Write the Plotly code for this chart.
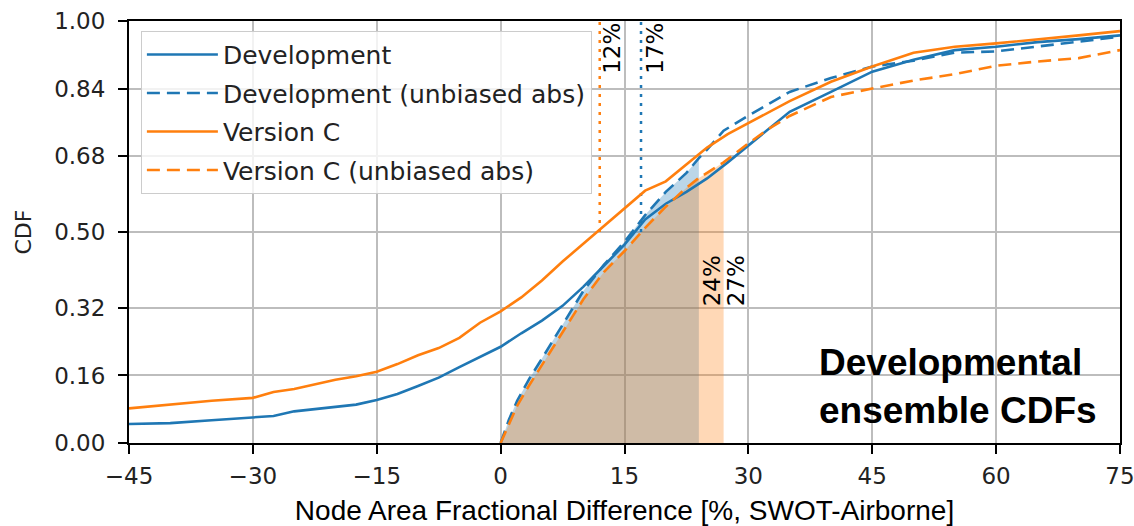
import plotly.graph_objects as go

# ---------------- data ----------------
x_solid = [-45, -40, -35, -30, -27.5, -25, -20, -17.5, -15, -12.5, -10, -7.5, -5, -2.5,
           0, 2.5, 5, 7.5, 10, 12.5, 15, 17.5, 20, 22.5, 25, 27.5, 30, 35, 40, 45,
           50, 55, 60, 65, 70, 75]
dev_cdf = [0.045, 0.047, 0.054, 0.061, 0.064, 0.075, 0.085, 0.091, 0.102, 0.116, 0.135,
           0.155, 0.180, 0.205, 0.228, 0.260, 0.290, 0.325, 0.370, 0.420, 0.470, 0.530,
           0.567, 0.595, 0.627, 0.665, 0.705, 0.785, 0.832, 0.880, 0.908, 0.931, 0.939,
           0.950, 0.957, 0.966]
verc_cdf = [0.082, 0.091, 0.100, 0.107, 0.121, 0.128, 0.150, 0.158, 0.169, 0.187, 0.208,
            0.225, 0.249, 0.285, 0.312, 0.345, 0.385, 0.430, 0.472, 0.515, 0.556, 0.598,
            0.620, 0.660, 0.700, 0.732, 0.758, 0.810, 0.856, 0.892, 0.925, 0.939, 0.947,
            0.956, 0.966, 0.976]

x_abs = [0, 1, 2, 3.5, 5, 7.5, 10, 12.5, 15, 17.5, 20, 22.5, 24, 25, 27, 30, 32.5, 35,
         40, 45, 50, 55, 60, 65, 70, 75]
dev_abs_cdf = [0.0, 0.055, 0.100, 0.153, 0.200, 0.280, 0.360, 0.422, 0.477, 0.540, 0.595,
               0.640, 0.675, 0.695, 0.740, 0.776, 0.805, 0.832, 0.865, 0.892, 0.906,
               0.925, 0.928, 0.939, 0.951, 0.963]
verc_abs_cdf = [0.0, 0.045, 0.088, 0.138, 0.185, 0.262, 0.340, 0.405, 0.455, 0.510, 0.560,
                0.605, 0.628, 0.640, 0.665, 0.710, 0.745, 0.775, 0.820, 0.840, 0.859,
                0.874, 0.894, 0.904, 0.912, 0.931]

median_dev = 17      # dotted marker, Development
median_verc = 12     # dotted marker, Version C
p68_dev_abs = 24     # shaded extent, Development (unbiased abs)
p68_verc_abs = 27    # shaded extent, Version C (unbiased abs)

x_ticks = [-45, -30, -15, 0, 15, 30, 45, 60, 75]
x_tick_labels = ["\u221245", "\u221230", "\u221215", "0", "15", "30", "45", "60", "75"]
y_ticks = [0.0, 0.16, 0.32, 0.50, 0.68, 0.84, 1.00]
y_tick_labels = ["0.00", "0.16", "0.32", "0.50", "0.68", "0.84", "1.00"]

BLUE = "#1f77b4"
ORANGE = "#ff7f0e"
TICKFONT = "DejaVu Sans"
ARIAL = "Liberation Sans, Arial, sans-serif"

fig = go.Figure()

# shaded areas under the unbiased-abs CDFs
def clip(xs, ys, xmax):
    px = [x for x in xs if x <= xmax]
    return px, ys[:len(px)]

fx, fy = clip(x_abs, dev_abs_cdf, p68_dev_abs)
fig.add_trace(go.Scatter(x=fx, y=fy, mode="lines", fill="tozeroy",
                         fillcolor="rgba(31,119,180,0.3)", line=dict(width=0),
                         showlegend=False, hoverinfo="skip"))
fx, fy = clip(x_abs, verc_abs_cdf, p68_verc_abs)
fig.add_trace(go.Scatter(x=fx, y=fy, mode="lines", fill="tozeroy",
                         fillcolor="rgba(255,127,14,0.3)", line=dict(width=0),
                         showlegend=False, hoverinfo="skip"))

# dotted median markers
fig.add_trace(go.Scatter(x=[median_verc, median_verc], y=[0.5, 1.0], mode="lines",
                         line=dict(color=ORANGE, width=2.5, dash="3px,6px"),
                         showlegend=False, hoverinfo="skip"))
fig.add_trace(go.Scatter(x=[median_dev, median_dev], y=[0.5, 1.0], mode="lines",
                         line=dict(color=BLUE, width=2.5, dash="3px,6px"),
                         showlegend=False, hoverinfo="skip"))

# CDF curves
fig.add_trace(go.Scatter(x=x_solid, y=dev_cdf, mode="lines", name="Development",
                         line=dict(color=BLUE, width=2.6), legendgroup="a"))
fig.add_trace(go.Scatter(x=x_abs, y=dev_abs_cdf, mode="lines",
                         name="Development (unbiased abs)",
                         line=dict(color=BLUE, width=2.6, dash="13px,7px"), legendgroup="b"))
fig.add_trace(go.Scatter(x=x_solid, y=verc_cdf, mode="lines", name="Version C",
                         line=dict(color=ORANGE, width=2.6), legendgroup="c"))
fig.add_trace(go.Scatter(x=x_abs, y=verc_abs_cdf, mode="lines",
                         name="Version C (unbiased abs)",
                         line=dict(color=ORANGE, width=2.6, dash="13px,7px"), legendgroup="d"))

ann_font = dict(family=TICKFONT, size=23, color="black")
for xv, txt in [(median_verc + 1.4, "12%"), (median_dev + 1.6, "17%")]:
    fig.add_annotation(x=xv, y=1.0, xref="x", yref="y", text=txt,
                       textangle=-90, showarrow=False, xanchor="center", yanchor="top",
                       font=ann_font)
for xv, txt in [(p68_dev_abs + 1.7, "24%"), (p68_verc_abs + 1.6, "27%")]:
    fig.add_annotation(x=xv, y=0.32, xref="x", yref="y", text=txt, textangle=-90,
                       showarrow=False, xanchor="center", yanchor="bottom", font=ann_font)

fig.add_annotation(x=38.3, y=0.135, xref="x", yref="y",
                   text="Developmental<br>ensemble CDFs", showarrow=False,
                   align="left", xanchor="left", yanchor="middle",
                   font=dict(family=ARIAL, size=37, color="black", weight="bold"))

axis_common = dict(showgrid=True, gridcolor="#bdbdbd", gridwidth=1.6, zeroline=False,
                   showline=True, linecolor="black", linewidth=2, mirror=True,
                   ticks="outside", ticklen=9, tickwidth=2, tickcolor="black",
                   automargin=False, ticklabeloverflow="allow",
                   tickfont=dict(family=TICKFONT, size=23, color="#222222"))

fig.update_layout(
    width=1134, height=526,
    margin=dict(l=129, r=14, t=21, b=83),
    plot_bgcolor="white", paper_bgcolor="white",
    xaxis=dict(range=[-45, 75], tickmode="array", tickvals=x_ticks, ticktext=x_tick_labels,
               ticklabelstandoff=2,
               title=dict(text="Node Area Fractional Difference [%, SWOT-Airborne]",
                          font=dict(family=ARIAL, size=28, color="black"), standoff=14),
               **axis_common),
    yaxis=dict(range=[0, 1], tickmode="array", tickvals=y_ticks, ticktext=y_tick_labels,
               ticklabelstandoff=8,
               title=dict(text="CDF", font=dict(family=TICKFONT, size=22, color="#222222"),
                          standoff=16),
               **axis_common),
    legend=dict(x=0.012, y=0.977, xanchor="left", yanchor="top",
                bgcolor="rgba(255,255,255,0.8)", bordercolor="#cccccc", borderwidth=1,
                font=dict(family=TICKFONT, size=25, color="#222222"),
                tracegroupgap=3, itemwidth=71),
    showlegend=True,
)

fig.write_html("out.html")
